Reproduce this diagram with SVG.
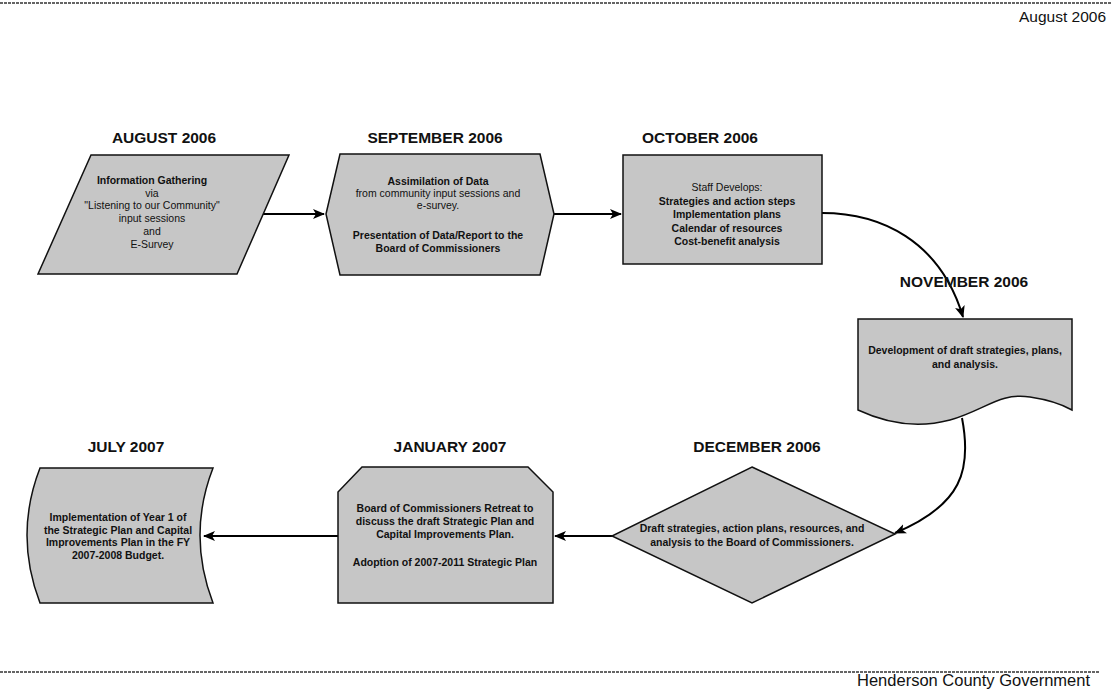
<svg xmlns="http://www.w3.org/2000/svg" width="1112" height="694" viewBox="0 0 1112 694">
<style>
.bg{fill:#ffffff}
.shape{fill:#c6c6c6;stroke:#111;stroke-width:1.5}
.conn{fill:none;stroke:#000;stroke-width:2}
.hdr{font-family:"Liberation Sans",Arial,sans-serif;font-weight:bold;font-size:15.5px;fill:#111;text-anchor:middle}
.t{font-family:"Liberation Sans",Arial,sans-serif;font-size:10.5px;fill:#111;text-anchor:middle}
.b{font-weight:bold}
.corner{font-family:"Liberation Sans",Arial,sans-serif;fill:#111}
.rule{stroke:#333;stroke-width:1.5;stroke-dasharray:3 1}
</style>
<defs>
<marker id="ah" markerWidth="12" markerHeight="10" refX="11" refY="5" orient="auto" markerUnits="userSpaceOnUse">
<path d="M0,0 L12,5 L0,10 L3,5 Z" fill="#000"/>
</marker>
</defs>
<rect class="bg" x="0" y="0" width="1112" height="694"/>
<line class="rule" x1="0" y1="3" x2="1112" y2="3"/>
<line class="rule" x1="0" y1="672" x2="1100" y2="672"/>
<text class="corner" x="1106" y="22" text-anchor="end" font-size="15.5">August 2006</text>
<text class="corner" x="1090" y="686" text-anchor="end" font-size="16.5">Henderson County Government</text>

<g id="connectors">
<path class="conn" d="M263,214 H324" marker-end="url(#ah)"/>
<path class="conn" d="M554,214 H621" marker-end="url(#ah)"/>
<path class="conn" d="M822,213 C880,213 940,240 963,317" marker-end="url(#ah)"/>
<path class="conn" d="M962,418 C972,470 962,505 895,533" marker-end="url(#ah)"/>
<path class="conn" d="M612,536 H555" marker-end="url(#ah)"/>
<path class="conn" d="M338,536 H204" marker-end="url(#ah)"/>
</g>

<g id="aug">
<text class="hdr" x="164" y="143">AUGUST 2006</text>
<polygon class="shape" points="91,155 289,155 237,274 38,274"/>
<text class="t" x="152" y="184"><tspan class="b">Information Gathering</tspan><tspan x="152" dy="12.7">via</tspan><tspan x="152" dy="12.7">"Listening to our Community"</tspan><tspan x="152" dy="12.7">input sessions</tspan><tspan x="152" dy="12.7">and</tspan><tspan x="152" dy="12.7">E-Survey</tspan></text>
</g>

<g id="sep">
<text class="hdr" x="435" y="143">SEPTEMBER 2006</text>
<polygon class="shape" points="340,154 540,154 554,214 540,275 340,275 326,214"/>
<text class="t" x="438" y="185"><tspan class="b">Assimilation of Data</tspan><tspan x="438" dy="12">from community input sessions and</tspan><tspan x="438" dy="12">e-survey.</tspan><tspan x="438" dy="30" class="b">Presentation of Data/Report to the</tspan><tspan x="438" dy="13" class="b">Board of Commissioners</tspan></text>
</g>

<g id="oct">
<text class="hdr" x="700" y="143">OCTOBER 2006</text>
<rect class="shape" x="623" y="155" width="199" height="109"/>
<text class="t" x="727" y="191"><tspan>Staff Develops:</tspan><tspan x="727" dy="13.5" class="b">Strategies and action steps</tspan><tspan x="727" dy="13.5" class="b">Implementation plans</tspan><tspan x="727" dy="13.5" class="b">Calendar of resources</tspan><tspan x="727" dy="13.5" class="b">Cost-benefit analysis</tspan></text>
</g>

<g id="nov">
<text class="hdr" x="964" y="287">NOVEMBER 2006</text>
<path class="shape" d="M858,319 H1072 V410 C1065,406 1050,400 1030,397 C1000,392 985,410 950,420 C920,428 890,425 858,410 Z"/>
<text class="t b" x="965" y="354"><tspan>Development of draft strategies, plans,</tspan><tspan x="965" dy="14">and analysis.</tspan></text>
</g>

<g id="dec">
<text class="hdr" x="757" y="452">DECEMBER 2006</text>
<polygon class="shape" points="752,467 895,534 752,603 612,536"/>
<text class="t b" x="752" y="532"><tspan>Draft strategies, action plans, resources, and</tspan><tspan x="752" dy="14">analysis to the Board of Commissioners.</tspan></text>
</g>

<g id="jan">
<text class="hdr" x="450" y="452">JANUARY 2007</text>
<polygon class="shape" points="362,467 528,467 553,492 553,603 338,603 338,492"/>
<text class="t b" x="445" y="512"><tspan>Board of Commissioners Retreat to</tspan><tspan x="445" dy="13">discuss the draft Strategic Plan and</tspan><tspan x="445" dy="13">Capital Improvements Plan.</tspan><tspan x="445" dy="28">Adoption of 2007-2011 Strategic Plan</tspan></text>
</g>

<g id="jul">
<text class="hdr" x="126" y="452">JULY 2007</text>
<path class="shape" d="M40,468 H213 Q187,535 213,603 H40 Q14,535 40,468 Z"/>
<text class="t b" x="118" y="521"><tspan>Implementation of Year 1 of</tspan><tspan x="118" dy="12.5">the Strategic Plan and Capital</tspan><tspan x="118" dy="12.5">Improvements Plan in the FY</tspan><tspan x="118" dy="12.5">2007-2008 Budget.</tspan></text>
</g>
</svg>
